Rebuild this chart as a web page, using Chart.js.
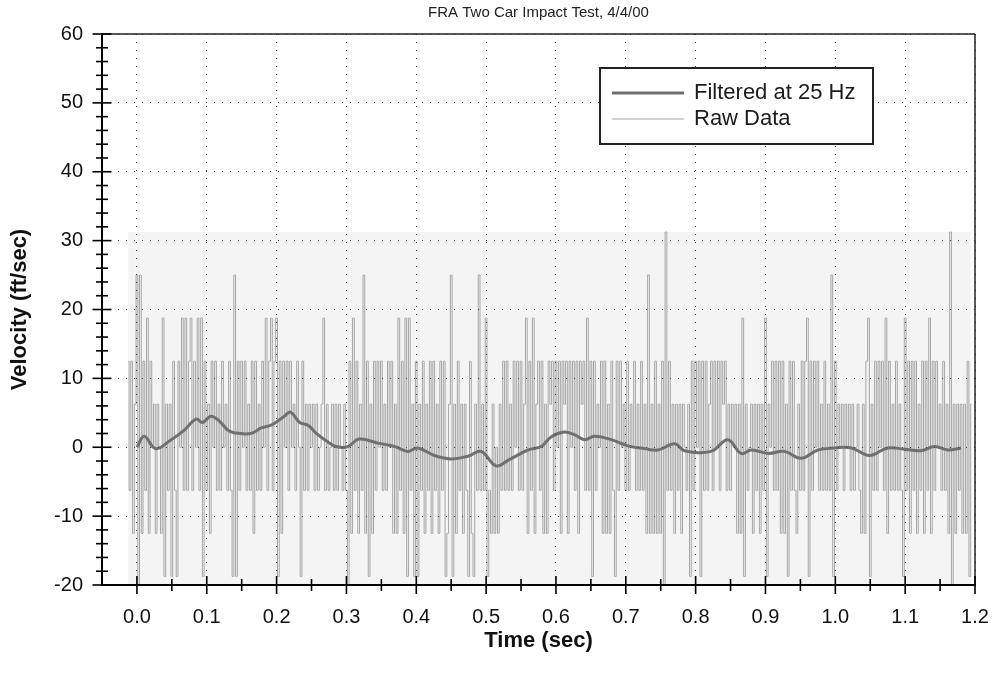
<!DOCTYPE html>
<html>
<head>
    <title>FRA Two Car Impact Test, 4/4/00</title>
    <script src="https://cdn.jsdelivr.net/npm/chart.js"></script>
    <style>
        body { margin: 0; background: #fff; }
        #wrap { width: 995px; height: 676px; }
    </style>
</head>
<body>
    <div id="wrap"><canvas id="velocityChart" width="995" height="676"></canvas></div>

    <script>
        // Filtered at 25 Hz (sec, ft/sec)
        const filteredTime = [0, 0.0105, 0.027, 0.049, 0.068, 0.0845, 0.094, 0.106, 0.118, 0.13,
            0.139, 0.163, 0.178, 0.194, 0.211, 0.22, 0.233, 0.245, 0.256, 0.273,
            0.285, 0.302, 0.318, 0.345, 0.369, 0.388, 0.402, 0.426, 0.45, 0.474,
            0.493, 0.514, 0.533, 0.56, 0.579, 0.593, 0.612, 0.627, 0.641, 0.655,
            0.679, 0.703, 0.727, 0.746, 0.77, 0.784, 0.822, 0.846, 0.865, 0.88,
            0.904, 0.927, 0.951, 0.975, 0.999, 1.023, 1.049, 1.075, 1.099, 1.123,
            1.142, 1.161, 1.18];
        const filteredVelocity = [0, 1.6, -0.2, 1.1, 2.5, 4.1, 3.6, 4.5, 3.8, 2.5,
            2.1, 2.0, 2.8, 3.3, 4.5, 5.1, 3.6, 3.2, 2.1, 0.8,
            0.1, 0.1, 1.2, 0.6, 0.1, -0.6, -0.1, -1.2, -1.7, -1.3,
            -0.6, -2.7, -1.8, -0.4, 0.1, 1.5, 2.2, 1.8, 1.1, 1.6,
            1.1, 0.2, -0.2, -0.4, 0.5, -0.5, -0.6, 1.1, -0.9, -0.4,
            -0.9, -0.6, -1.6, -0.4, -0.1, -0.1, -1.2, -0.1, -0.3, -0.5,
            0.1, -0.4, -0.1];

        // Raw data - one sample every 2.5 ms starting at -0.0125 s (20 per row = 0.05 s)
        const rawStart = -0.0125;
        const rawStep = 0.0025;
        const rawVelocity = [
            12.5, -6.25, 12.5, -12.5, 6.25, 25, -25, 25, -12.5, 12.5, -6.25, 18.75, -12.5, 12.5, 0, 6.25, -12.5, 6.25, 0, -12.5,
            18.75, -18.75, 6.25, -6.25, 6.25, -18.75, 12.5, -6.25, -18.75, 12.5, 0, 18.75, -6.25, 18.75, -6.25, 12.5, 18.75, -6.25, 12.5, 0,
            18.75, -6.25, 18.75, -18.75, 12.5, -6.25, 6.25, -12.5, 12.5, 0, 12.5, -6.25, 6.25, -6.25, 12.5, 0, 6.25, -6.25, 12.5, -6.25,
            -18.75, 25, -18.75, 12.5, -6.25, 12.5, 0, 12.5, -6.25, 6.25, -6.25, 12.5, -12.5, 12.5, -6.25, 6.25, -6.25, 12.5, 0, 18.75,
            -6.25, 12.5, 18.75, -6.25, 12.5, 18.75, -18.75, 12.5, -12.5, 12.5, 0, 12.5, -6.25, 12.5, 0, 6.25, -6.25, 12.5, 0, -18.75,
            12.5, -6.25, 6.25, -6.25, 6.25, 0, 6.25, -6.25, 6.25, -6.25, 0, 6.25, 18.75, -6.25, 6.25, -6.25, 0, 6.25, -6.25, 6.25,
            -6.25, 6.25, 0, -6.25, 6.25, -6.25, -25, 12.5, -12.5, 18.75, -6.25, 12.5, -12.5, 6.25, -6.25, 25, -12.5, 12.5, -18.75, 6.25,
            -12.5, 12.5, -6.25, 12.5, 0, 12.5, -6.25, 6.25, -6.25, 12.5, 0, 12.5, -12.5, 6.25, -12.5, 18.75, -6.25, 12.5, -12.5, 18.75,
            -18.75, 18.75, -6.25, 6.25, -18.75, 12.5, -18.75, 6.25, -6.25, 12.5, -12.5, 6.25, -6.25, 12.5, -12.5, 12.5, -6.25, 6.25, -12.5, 12.5,
            -6.25, 12.5, -18.75, -12.5, 6.25, 25, -18.75, 6.25, -12.5, 12.5, -6.25, 6.25, -12.5, 6.25, -6.25, -18.75, 12.5, -12.5, -18.75, 6.25,
            -6.25, 25, -6.25, 6.25, -6.25, 18.75, -18.75, -6.25, -12.5, 6.25, -12.5, 0, -12.5, 6.25, -6.25, 12.5, -6.25, 12.5, -6.25, 6.25,
            -6.25, 12.5, 0, 12.5, -6.25, 12.5, -6.25, 6.25, 18.75, -12.5, 12.5, -6.25, 18.75, -12.5, 6.25, 12.5, -6.25, 12.5, -12.5, 6.25,
            -12.5, 12.5, 6.25, 12.5, -6.25, 12.5, 0, 12.5, -12.5, 12.5, 6.25, 12.5, -12.5, 12.5, 0, 12.5, -6.25, 12.5, -12.5, 12.5,
            6.25, 12.5, -6.25, 18.75, -6.25, 12.5, -18.75, 12.5, -6.25, 6.25, 0, 12.5, -12.5, 12.5, -12.5, 6.25, -12.5, 12.5, -6.25, -18.75,
            12.5, -6.25, 12.5, 0, 6.25, -6.25, 12.5, -6.25, 6.25, 0, 12.5, -6.25, 6.25, -6.25, 12.5, -6.25, 6.25, -12.5, 25, -12.5,
            6.25, -12.5, 12.5, -12.5, 6.25, -12.5, 12.5, -25, 31.25, -6.25, 12.5, -6.25, 6.25, -12.5, 6.25, -6.25, 6.25, -12.5, 6.25, 0,
            -6.25, 6.25, -18.75, 12.5, -6.25, 12.5, 0, 12.5, -18.75, 12.5, -6.25, 12.5, -6.25, 6.25, 12.5, -6.25, 12.5, 0, 12.5, -6.25,
            12.5, 6.25, 12.5, -6.25, 6.25, -6.25, 6.25, 0, 6.25, -12.5, 6.25, -12.5, 18.75, -18.75, 6.25, -6.25, 0, 6.25, -12.5, 6.25,
            -6.25, 6.25, -12.5, 6.25, -6.25, 18.75, -18.75, 6.25, 0, 12.5, -6.25, 12.5, -6.25, 12.5, -12.5, 12.5, -12.5, 6.25, -18.75, 12.5,
            -6.25, 12.5, -6.25, -12.5, 6.25, -6.25, 12.5, -6.25, 12.5, 18.75, -18.75, 12.5, -6.25, 12.5, 0, 12.5, -6.25, 6.25, -6.25, 12.5,
            -6.25, 6.25, -6.25, 25, -18.75, 12.5, -6.25, 6.25, 0, 6.25, -6.25, 6.25, 0, 6.25, -6.25, 6.25, -6.25, 0, 6.25, -6.25,
            -12.5, 6.25, -12.5, 12.5, 18.75, -18.75, 6.25, -6.25, 12.5, -6.25, 12.5, 0, 12.5, -6.25, 18.75, -12.5, 12.5, -6.25, 6.25, -6.25,
            12.5, -6.25, 6.25, -6.25, -18.75, 18.75, -6.25, 12.5, -12.5, 12.5, -6.25, 12.5, -12.5, 6.25, -6.25, 12.5, -12.5, 12.5, -6.25, 18.75,
            -12.5, 12.5, -6.25, 12.5, 0, 6.25, -6.25, 12.5, -6.25, 6.25, -12.5, 31.25, -25, 6.25, -12.5, 6.25, -6.25, 6.25, -12.5, 6.25,
            -12.5, 12.5, -18.75, 6.25
        ];

        const chartTitle = 'FRA Two Car Impact Test, 4/4/00';
        const FONT = "'Liberation Sans', Arial, sans-serif";

        const filteredPoints = filteredTime.map((t, i) => ({ x: t, y: filteredVelocity[i] }));
        const rawPoints = rawVelocity.map((v, i) => ({ x: rawStart + i * rawStep, y: v }));

        // frame, crossing tick marks, title and boxed legend like the original plot
        const framePlugin = {
            id: 'frame',
            beforeDatasetsDraw(chart) {
                const { ctx, chartArea: a, scales: { x, y } } = chart;
                const left = x.getPixelForValue(rawStart);
                const right = x.getPixelForValue(rawStart + (rawVelocity.length - 1) * rawStep);
                const top = y.getPixelForValue(Math.max(...rawVelocity));
                ctx.save();
                ctx.fillStyle = '#f4f4f4';
                ctx.fillRect(left, top, right - left, a.bottom - top);
                ctx.restore();
            },
            afterDraw(chart) {
                const { ctx, chartArea: a, scales: { x, y } } = chart;
                ctx.save();

                function line(x1, y1, x2, y2) {
                    ctx.beginPath();
                    ctx.moveTo(x1, y1);
                    ctx.lineTo(x2, y2);
                    ctx.stroke();
                }

                // top and right border
                ctx.strokeStyle = '#222';
                ctx.lineWidth = 1.5;
                line(a.left, a.top, a.right, a.top);
                line(a.right, a.top, a.right, a.bottom);

                // axes
                ctx.strokeStyle = '#000';
                ctx.lineWidth = 2;
                line(a.left, a.top - 1, a.left, a.bottom + 1);
                line(a.left - 1, a.bottom, a.right + 1, a.bottom);

                // tick marks crossing the axes
                ctx.lineWidth = 1.6;
                for (let v = y.min; v <= y.max; v += 2) {
                    const py = y.getPixelForValue(v);
                    const len = v % 10 === 0 ? 9.5 : 6;
                    line(a.left - len, py, a.left + len, py);
                }
                for (let i = 0; i <= 24; i++) {
                    const px = x.getPixelForValue(i * 0.05);
                    const len = i % 2 === 0 ? 9 : 6;
                    line(px, a.bottom - len, px, a.bottom + len);
                }

                // title
                ctx.fillStyle = '#222';
                ctx.font = '15px ' + FONT;
                ctx.textAlign = 'center';
                ctx.textBaseline = 'middle';
                ctx.fillText(chartTitle, (a.left + a.right) / 2, 13);

                // legend box
                const bx = 600, by = 68, bw = 273, bh = 76;
                ctx.fillStyle = '#fff';
                ctx.fillRect(bx, by, bw, bh);
                ctx.strokeStyle = '#222';
                ctx.lineWidth = 2;
                ctx.strokeRect(bx, by, bw, bh);
                ctx.font = '22px ' + FONT;
                ctx.textAlign = 'left';
                chart.data.datasets.forEach((ds, i) => {
                    const ly = by + 25 + i * 26;
                    ctx.strokeStyle = ds.borderColor;
                    ctx.lineWidth = ds.borderWidth;
                    line(612, ly, 684, ly);
                    ctx.fillStyle = '#1a1a1a';
                    ctx.fillText(ds.label, 694, ly);
                });

                ctx.restore();
            }
        };

        const tickFont = { family: FONT, size: 20 };
        const axisTitleFont = { family: FONT, size: 22, weight: 'bold' };

        const ctx = document.getElementById('velocityChart').getContext('2d');
        const velocityChart = new Chart(ctx, {
            type: 'line',
            data: {
                datasets: [{
                    label: 'Filtered at 25 Hz',
                    data: filteredPoints,
                    borderColor: '#707070',
                    borderWidth: 3,
                    tension: 0.4,
                    pointRadius: 0,
                    fill: false
                }, {
                    label: 'Raw Data',
                    data: rawPoints,
                    borderColor: '#a5a5a5',
                    borderWidth: 1,
                    stepped: 'middle',
                    pointRadius: 0,
                    fill: false
                }]
            },
            options: {
                responsive: false,
                animation: false,
                events: [],
                layout: { padding: { top: 34, right: 20, left: 0, bottom: 0 } },
                plugins: {
                    legend: { display: false },
                    title: { display: false },
                    tooltip: { enabled: false }
                },
                scales: {
                    x: {
                        type: 'linear',
                        min: -0.05,
                        max: 1.2,
                        ticks: {
                            stepSize: 0.1,
                            includeBounds: false,
                            autoSkip: false,
                            maxRotation: 0,
                            padding: 20,
                            color: '#111',
                            font: tickFont,
                            callback: v => v.toFixed(1)
                        },
                        grid: { color: '#444', lineWidth: 1, drawTicks: false, z: 1 },
                        border: { display: false, dash: [1, 7] },
                        title: {
                            display: true,
                            text: 'Time (sec)',
                            color: '#111',
                            font: axisTitleFont,
                            padding: { top: 0, bottom: 22 }
                        },
                        afterFit: s => {
                            s.height = 91;
                            s.paddingLeft = 0;
                            s.paddingRight = 0;
                        }
                    },
                    y: {
                        min: -20,
                        max: 60,
                        ticks: {
                            stepSize: 10,
                            padding: 19,
                            color: '#111',
                            font: tickFont
                        },
                        grid: { color: '#444', lineWidth: 1, drawTicks: false, z: 1 },
                        border: { display: false, dash: [1, 7] },
                        title: {
                            display: true,
                            text: 'Velocity (ft/sec)',
                            color: '#111',
                            font: axisTitleFont,
                            padding: { top: 7, bottom: 0 }
                        },
                        afterFit: s => { s.width = 102; }
                    }
                }
            },
            plugins: [framePlugin]
        });
    </script>
</body>
</html>
